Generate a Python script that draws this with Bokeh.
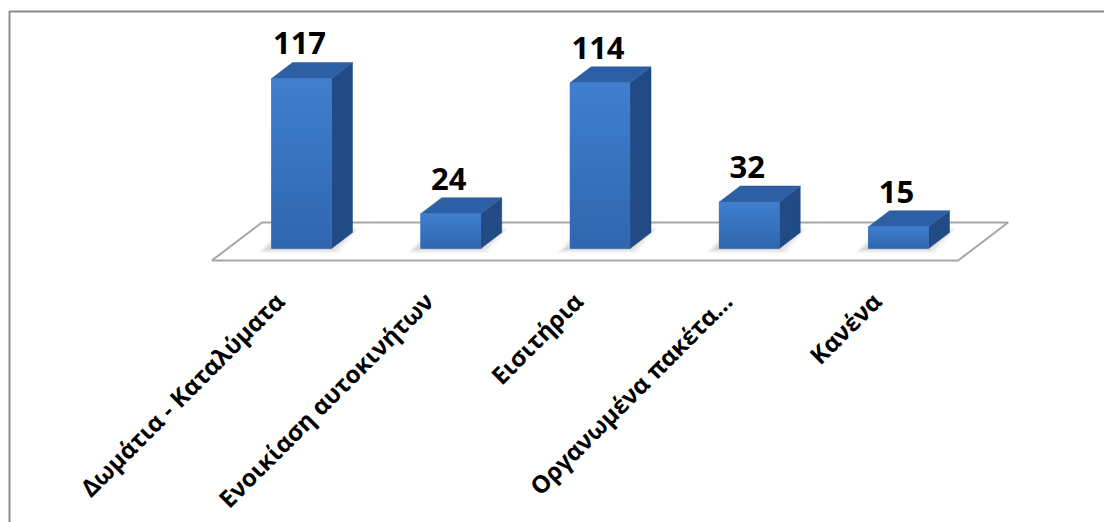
import numpy as np
from bokeh.plotting import figure
from bokeh.models import Range1d
from bokeh.embed import file_html
from bokeh.resources import INLINE
from bokeh.core.properties import value

categories = ["Δωμάτια - Καταλύματα", "Ενοικίαση αυτοκινήτων", "Εισιτήρια",
              "Οργανωμένα πακέτα...", "Κανένα"]
counts = [117, 24, 114, 32, 15]

W, H = 1104, 522
PX_X = 149.25   # pixels per category step
PX_Y = 1.453    # pixels per count unit
x0 = -301 / PX_X
y_top = 248 / PX_Y

p = figure(width=W, height=H,
           x_range=Range1d(x0, x0 + W / PX_X),
           y_range=Range1d(y_top - H / PX_Y, y_top),
           output_backend="svg", toolbar_location=None,
           x_axis_location=None, y_axis_location=None,
           min_border=0, outline_line_color=None,
           background_fill_color="white", border_fill_color="white")
p.grid.visible = False

def px(dx):
    return dx / PX_X

def py(dy):
    return dy / PX_Y

n = len(counts)
xs = np.arange(n, dtype=float)
half = px(30)
ddx, ddy = px(21), py(16)

# outer frame
p.line([x0 + px(9), x0 + px(9), x0 + W / PX_X + 1],
       [y_top - H / PX_Y - 5, y_top - py(11), y_top - py(11)],
       line_color="#8C8C8C", line_width=2)

# floor
fl, fr = -0.5 - px(15), (n - 1) + 0.5 - px(15)
fy0, fy1 = py(-12), py(26)
fsx = px(50)
p.patch([fl, fr, fr + fsx, fl + fsx], [fy0, fy0, fy1, fy1],
        fill_color="white", line_color="#A6A6A6", line_width=2)

# shadows
for grow, alpha in [(9, 0.06), (6, 0.08), (3, 0.10)]:
    sx, sy = [], []
    for c in xs:
        l, r = c - half - px(grow + 4), c + half + ddx + px(grow - 2)
        b, t = py(-grow / 2), py(16 + grow / 2)
        sx.append([l, r - ddx, r, l + ddx])
        sy.append([b, b, t, t])
    p.patches(sx, sy, fill_color="#505050", fill_alpha=alpha, line_color=None)

# bars: side, top, front (gradient)
side_x, side_y, top_x, top_y = [], [], [], []
for c, v in zip(xs, counts):
    r = c + half
    side_x.append([r, r + ddx, r + ddx, r])
    side_y.append([0, ddy, v + ddy, v])
    top_x.append([c - half, r, r + ddx, c - half + ddx])
    top_y.append([v, v, v + ddy, v + ddy])
p.patches(side_x, side_y, fill_color="#224A84", line_color="#224A84", line_width=0.5)
p.patches(top_x, top_y, fill_color="#2D5FA4", line_color="#2D5FA4", line_width=0.5)

bot = np.array([0x30, 0x66, 0xAE])
topc = np.array([0x3F, 0x7F, 0xCF])
NS = 30
# base front face
p.quad(left=list(xs - half), right=list(xs + half), bottom=0, top=counts,
       fill_color="#3872BE", line_color="#3872BE", line_width=0.5)
for c, v in zip(xs, counts):
    bs, ts, cols = [], [], []
    for k in range(NS):
        f = (k + 0.5) / NS
        col = bot + (topc - bot) * f
        cols.append("#%02x%02x%02x" % tuple(int(round(u)) for u in col))
        bs.append(v * k / NS)
        ts.append(min(v, v * (k + 1) / NS + py(1.2)))
    p.quad(left=c - half, right=c + half, bottom=bs, top=ts,
           fill_color=cols, line_color=None)

# value labels
p.text(x=list(xs - px(2)), y=[v + py(35) for v in counts],
       text=[str(v) for v in counts],
       text_font=value("Open Sans"), text_font_style="bold",
       text_font_size="31px", text_color="black",
       text_align="center", text_baseline="alphabetic")

# category labels (rotated)
p.text(x=list(xs - px(22)), y=[py(-48)] * n, text=categories,
       angle=np.pi / 4,
       text_font=value("Open Sans"), text_font_style="bold",
       text_font_size="24px", text_color="black",
       text_align="right", text_baseline="middle")

open("out.html", "w").write(file_html(p, INLINE))
